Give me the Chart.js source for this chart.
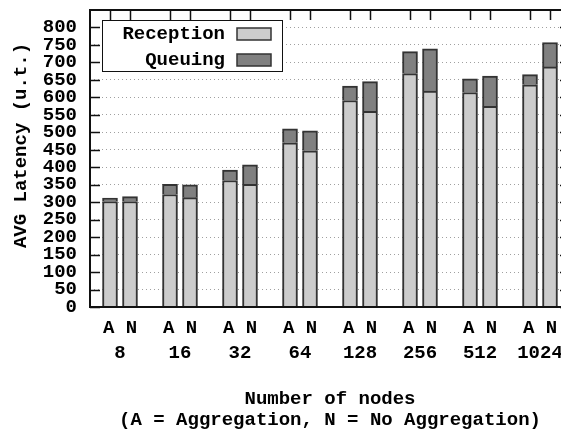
<!DOCTYPE html>
<html>
<head>
<meta charset="utf-8">
<script src="https://cdn.jsdelivr.net/npm/chart.js@4"></script>
<style>
  html, body { margin: 0; padding: 0; background: #fff; overflow: hidden; }
  #wrap { width: 561px; height: 435px; overflow: hidden; position: relative; }
</style>
</head>
<body>
<div id="wrap"><canvas id="latencyChart" width="580" height="435"></canvas></div>
<script>
// node counts (one group per value), each group has an A and an N bar
const GROUPS = ['8', '16', '32', '64', '128', '256', '512', '1024'];
const RECEPTION_A = [302, 322, 362, 470, 591, 668, 614, 636];
const QUEUING_A   = [10, 29, 30, 40, 41, 63, 39, 29];
const RECEPTION_N = [302, 313, 351, 447, 560, 618, 574, 687];
const QUEUING_N   = [14, 37, 56, 57, 85, 121, 87, 70];
const Y_STEP = 50;
const Y_LAST_LABEL = 800;

const FONT = "'Liberation Mono', 'Courier New', monospace";
const RECEPTION_COLOR = '#cccccc';
const QUEUING_COLOR = '#808080';
const EDGE_COLOR = '#333333';

// bar x positions: A at 3i+1, N at 3i+2
const barX = [];
GROUPS.forEach((g, i) => { barX.push(3 * i + 1, 3 * i + 2); });

function toPoints(aVals, nVals) {
    const pts = [];
    GROUPS.forEach((g, i) => {
        pts.push({ x: 3 * i + 1, y: aVals[i] });
        pts.push({ x: 3 * i + 2, y: nVals[i] });
    });
    return pts;
}

Chart.defaults.font.family = FONT;
Chart.defaults.font.weight = 'bold';
Chart.defaults.font.size = 19;
Chart.defaults.color = '#000';

// gnuplot style inward ticks (under the bars) and frame (over them)
const framePlugin = {
    id: 'frame',
    beforeDatasetsDraw(chart) {
        const { ctx, chartArea: a, scales } = chart;
        ctx.save();
        ctx.strokeStyle = '#111';
        ctx.lineWidth = 1.5;
        ctx.beginPath();
        for (let v = 0; v <= Y_LAST_LABEL; v += Y_STEP) {
            const y = Math.round(scales.y.getPixelForValue(v)) + 0.5;
            ctx.moveTo(a.left, y); ctx.lineTo(a.left + 10, y);
            ctx.moveTo(a.right, y); ctx.lineTo(a.right - 10, y);
        }
        barX.forEach(v => {
            const x = Math.round(scales.x.getPixelForValue(v)) + 0.5;
            ctx.moveTo(x, a.top); ctx.lineTo(x, a.top + 10);
        });
        ctx.stroke();
        ctx.restore();
    },
    afterDatasetsDraw(chart) {
        const { ctx, chartArea: a } = chart;
        ctx.save();
        ctx.strokeStyle = '#111';
        ctx.lineWidth = 2;
        ctx.strokeRect(a.left, a.top, a.right - a.left, a.bottom - a.top);
        ctx.restore();
    }
};

// legend box (text right aligned, key on the right) + axis captions
const extrasPlugin = {
    id: 'extras',
    afterDraw(chart) {
        const ctx = chart.ctx;
        ctx.save();
        ctx.fillStyle = '#fff';
        ctx.fillRect(102, 20, 180, 51);
        ctx.strokeStyle = '#111';
        ctx.lineWidth = 1;
        ctx.strokeRect(102.5, 20.5, 180, 51);

        ctx.font = `bold 19px ${FONT}`;
        ctx.textAlign = 'right';
        ctx.textBaseline = 'middle';
        chart.data.datasets.forEach((ds, i) => {
            const y = 34 + i * 26;
            ctx.fillStyle = '#000';
            ctx.fillText(ds.label, 225, y);
            ctx.fillStyle = ds.backgroundColor;
            ctx.fillRect(237, y - 6, 34, 12);
            ctx.strokeStyle = EDGE_COLOR;
            ctx.lineWidth = 1.5;
            ctx.strokeRect(237, y - 6, 34, 12);
        });

        ctx.fillStyle = '#000';
        ctx.textAlign = 'center';
        const cx = (chart.chartArea.left + chart.chartArea.right) / 2;
        ctx.fillText('Number of nodes', cx, 399);
        ctx.fillText('(A = Aggregation, N = No Aggregation)', cx, 420);

        ctx.translate(21.5, 145.5);
        ctx.rotate(-Math.PI / 2);
        ctx.fillText('AVG Latency (u.t.)', 0, 0);
        ctx.restore();
    }
};

const ctx = document.getElementById('latencyChart').getContext('2d');
new Chart(ctx, {
    type: 'bar',
    data: {
        datasets: [
            {
                label: 'Reception',
                data: toPoints(RECEPTION_A, RECEPTION_N),
                backgroundColor: RECEPTION_COLOR,
                borderColor: EDGE_COLOR,
                borderWidth: 2,
                barThickness: 15
            },
            {
                label: 'Queuing',
                data: toPoints(QUEUING_A, QUEUING_N),
                backgroundColor: QUEUING_COLOR,
                borderColor: EDGE_COLOR,
                borderWidth: 2,
                barThickness: 15
            }
        ]
    },
    options: {
        responsive: false,
        animation: false,
        layout: { padding: { top: 10, right: 10, left: 0, bottom: 0 } },
        plugins: {
            legend: { display: false },
            tooltip: { enabled: true }
        },
        scales: {
            x: {
                type: 'linear',
                min: 0,
                max: 24,
                offset: false,
                stacked: true,
                display: false,
                afterBuildTicks: s => { s.ticks = barX.map(v => ({ value: v })); }
            },
            groups: {
                type: 'linear',
                position: 'bottom',
                min: 0,
                max: 24,
                offset: false,
                grid: { display: false },
                border: { display: false },
                afterBuildTicks: s => { s.ticks = GROUPS.map((g, i) => ({ value: 3 * i + 1.5 })); },
                afterFit: s => { s.height = 128; },
                ticks: {
                    autoSkip: false,
                    maxRotation: 0,
                    padding: 1,
                    font: { size: 19, lineHeight: 25 / 19 },
                    callback: v => ['A N', GROUPS[Math.round((v - 1.5) / 3)]]
                }
            },
            y: {
                min: 0,
                max: 850,
                stacked: true,
                afterFit: s => { s.width = 90; s.paddingTop = 0; s.paddingBottom = 0; },
                border: { display: false, dash: [1, 3] },
                grid: {
                    drawTicks: false,
                    color: c => (c.tick.value > 0 && c.tick.value <= Y_LAST_LABEL) ? '#a0a0a0' : 'transparent',
                    lineWidth: 1
                },
                ticks: {
                    stepSize: Y_STEP,
                    autoSkip: false,
                    padding: 13,
                    callback: v => v <= Y_LAST_LABEL ? v : ''
                }
            }
        }
    },
    plugins: [framePlugin, extrasPlugin]
});
</script>
</body>
</html>
